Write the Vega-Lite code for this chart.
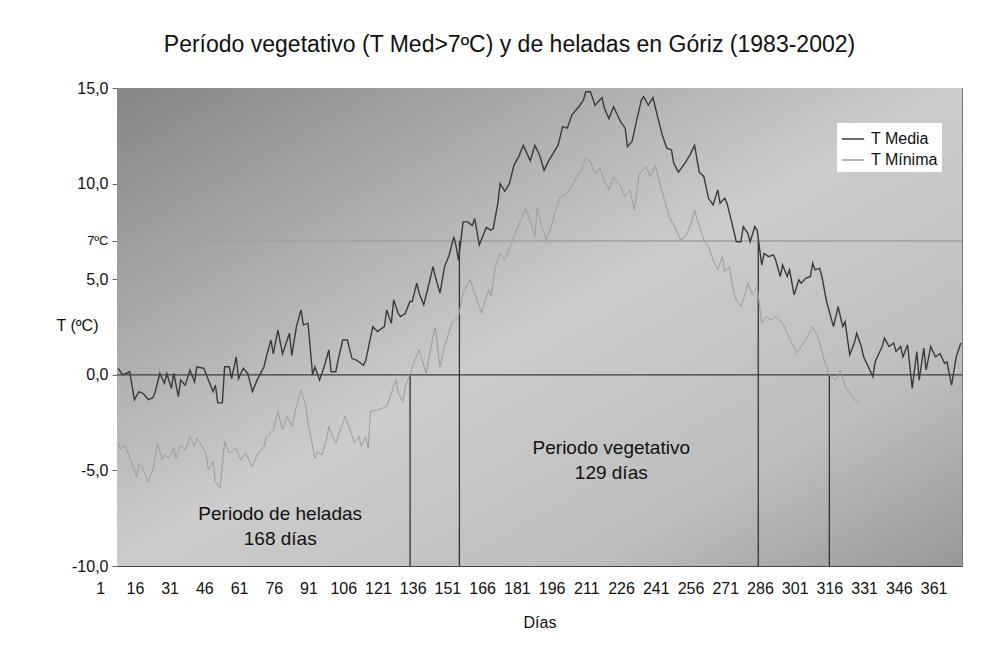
{
  "$schema": "https://vega.github.io/schema/vega-lite/v6.json",
  "autosize": "none",
  "width": 845,
  "height": 478,
  "padding": {"left": 117, "top": 88, "right": 21, "bottom": 85},
  "background": "#ffffff",
  "config": {
    "font": "Liberation Sans",
    "view": {"stroke": "#777777", "strokeWidth": 1},
    "text": {"font": "Liberation Sans"}
  },
  "title": {
    "text": "Período vegetativo (T Med>7ºC) y de heladas en Góriz (1983-2002)",
    "fontSize": 23,
    "fontWeight": "normal",
    "color": "#111111",
    "anchor": "middle",
    "baseline": "middle",
    "offset": 12,
    "dx": -30
  },
  "datasets": {
    "series": [
      {"day":1,"serie":"T Media","T":0.34},{"day":2,"serie":"T Media","T":0.16},{"day":3,"serie":"T Media","T":0.0},{"day":6,"serie":"T Media","T":0.16},{"day":8,"serie":"T Media","T":-1.3},{"day":10,"serie":"T Media","T":-0.88},{"day":12,"serie":"T Media","T":-1.0},{"day":14,"serie":"T Media","T":-1.3},{"day":16,"serie":"T Media","T":-1.2},{"day":17,"serie":"T Media","T":-0.9},{"day":19,"serie":"T Media","T":0.07},{"day":21,"serie":"T Media","T":-0.45},{"day":22,"serie":"T Media","T":0.07},{"day":24,"serie":"T Media","T":-0.71},{"day":25,"serie":"T Media","T":0.07},{"day":27,"serie":"T Media","T":-1.14},{"day":28,"serie":"T Media","T":-0.28},{"day":30,"serie":"T Media","T":-0.54},{"day":32,"serie":"T Media","T":0.25},{"day":34,"serie":"T Media","T":-0.37},{"day":35,"serie":"T Media","T":0.42},{"day":38,"serie":"T Media","T":0.34},{"day":40,"serie":"T Media","T":-0.28},{"day":42,"serie":"T Media","T":-0.88},{"day":43,"serie":"T Media","T":-0.54},{"day":44,"serie":"T Media","T":-1.47},{"day":46,"serie":"T Media","T":-1.47},{"day":47,"serie":"T Media","T":0.42},{"day":49,"serie":"T Media","T":0.42},{"day":50,"serie":"T Media","T":-0.2},{"day":52,"serie":"T Media","T":0.94},{"day":53,"serie":"T Media","T":-0.2},{"day":55,"serie":"T Media","T":0.34},{"day":57,"serie":"T Media","T":0.07},{"day":59,"serie":"T Media","T":-0.88},{"day":61,"serie":"T Media","T":-0.28},{"day":64,"serie":"T Media","T":0.42},{"day":65,"serie":"T Media","T":0.94},{"day":67,"serie":"T Media","T":1.82},{"day":68,"serie":"T Media","T":1.1},{"day":70,"serie":"T Media","T":2.34},{"day":72,"serie":"T Media","T":1.1},{"day":75,"serie":"T Media","T":2.17},{"day":76,"serie":"T Media","T":1.0},{"day":78,"serie":"T Media","T":2.52},{"day":80,"serie":"T Media","T":3.39},{"day":81,"serie":"T Media","T":2.6},{"day":83,"serie":"T Media","T":2.7},{"day":85,"serie":"T Media","T":0.0},{"day":86,"serie":"T Media","T":0.42},{"day":88,"serie":"T Media","T":-0.28},{"day":90,"serie":"T Media","T":0.42},{"day":92,"serie":"T Media","T":1.3},{"day":93,"serie":"T Media","T":0.16},{"day":95,"serie":"T Media","T":0.16},{"day":96,"serie":"T Media","T":0.77},{"day":98,"serie":"T Media","T":1.82},{"day":100,"serie":"T Media","T":1.82},{"day":102,"serie":"T Media","T":0.85},{"day":104,"serie":"T Media","T":0.77},{"day":107,"serie":"T Media","T":0.5},{"day":108,"serie":"T Media","T":0.77},{"day":111,"serie":"T Media","T":2.52},{"day":113,"serie":"T Media","T":2.26},{"day":116,"serie":"T Media","T":2.52},{"day":117,"serie":"T Media","T":3.39},{"day":119,"serie":"T Media","T":2.69},{"day":120,"serie":"T Media","T":3.92},{"day":122,"serie":"T Media","T":3.2},{"day":123,"serie":"T Media","T":3.04},{"day":125,"serie":"T Media","T":3.2},{"day":127,"serie":"T Media","T":3.83},{"day":128,"serie":"T Media","T":3.83},{"day":130,"serie":"T Media","T":4.79},{"day":131,"serie":"T Media","T":4.27},{"day":133,"serie":"T Media","T":3.66},{"day":135,"serie":"T Media","T":4.62},{"day":137,"serie":"T Media","T":5.66},{"day":138,"serie":"T Media","T":5.14},{"day":140,"serie":"T Media","T":4.27},{"day":142,"serie":"T Media","T":5.66},{"day":144,"serie":"T Media","T":6.27},{"day":146,"serie":"T Media","T":7.22},{"day":147,"serie":"T Media","T":6.7},{"day":148,"serie":"T Media","T":6.0},{"day":150,"serie":"T Media","T":8.0},{"day":152,"serie":"T Media","T":8.0},{"day":154,"serie":"T Media","T":7.8},{"day":155,"serie":"T Media","T":8.17},{"day":157,"serie":"T Media","T":6.79},{"day":159,"serie":"T Media","T":7.4},{"day":160,"serie":"T Media","T":7.7},{"day":162,"serie":"T Media","T":7.57},{"day":163,"serie":"T Media","T":7.65},{"day":165,"serie":"T Media","T":8.97},{"day":166,"serie":"T Media","T":10.0},{"day":168,"serie":"T Media","T":9.6},{"day":170,"serie":"T Media","T":10.0},{"day":172,"serie":"T Media","T":10.97},{"day":174,"serie":"T Media","T":11.4},{"day":176,"serie":"T Media","T":12.0},{"day":179,"serie":"T Media","T":11.2},{"day":181,"serie":"T Media","T":12.0},{"day":183,"serie":"T Media","T":11.5},{"day":185,"serie":"T Media","T":10.7},{"day":187,"serie":"T Media","T":11.2},{"day":191,"serie":"T Media","T":12.0},{"day":193,"serie":"T Media","T":12.98},{"day":195,"serie":"T Media","T":12.9},{"day":196,"serie":"T Media","T":13.24},{"day":197,"serie":"T Media","T":13.6},{"day":200,"serie":"T Media","T":14.02},{"day":202,"serie":"T Media","T":14.37},{"day":203,"serie":"T Media","T":14.8},{"day":205,"serie":"T Media","T":14.8},{"day":207,"serie":"T Media","T":14.1},{"day":210,"serie":"T Media","T":14.5},{"day":211,"serie":"T Media","T":13.95},{"day":213,"serie":"T Media","T":13.4},{"day":215,"serie":"T Media","T":14.02},{"day":217,"serie":"T Media","T":13.5},{"day":218,"serie":"T Media","T":13.24},{"day":220,"serie":"T Media","T":12.9},{"day":221,"serie":"T Media","T":11.93},{"day":223,"serie":"T Media","T":12.2},{"day":225,"serie":"T Media","T":13.33},{"day":227,"serie":"T Media","T":14.37},{"day":228,"serie":"T Media","T":14.55},{"day":230,"serie":"T Media","T":14.1},{"day":232,"serie":"T Media","T":14.5},{"day":234,"serie":"T Media","T":13.5},{"day":236,"serie":"T Media","T":12.54},{"day":238,"serie":"T Media","T":11.85},{"day":240,"serie":"T Media","T":11.76},{"day":241,"serie":"T Media","T":11.06},{"day":243,"serie":"T Media","T":10.6},{"day":246,"serie":"T Media","T":11.1},{"day":248,"serie":"T Media","T":11.5},{"day":250,"serie":"T Media","T":12.0},{"day":252,"serie":"T Media","T":10.6},{"day":254,"serie":"T Media","T":10.36},{"day":256,"serie":"T Media","T":9.23},{"day":258,"serie":"T Media","T":8.88},{"day":260,"serie":"T Media","T":9.67},{"day":261,"serie":"T Media","T":8.97},{"day":263,"serie":"T Media","T":9.23},{"day":264,"serie":"T Media","T":8.97},{"day":266,"serie":"T Media","T":8.0},{"day":268,"serie":"T Media","T":6.96},{"day":270,"serie":"T Media","T":6.96},{"day":271,"serie":"T Media","T":7.75},{"day":273,"serie":"T Media","T":7.4},{"day":274,"serie":"T Media","T":6.96},{"day":276,"serie":"T Media","T":7.75},{"day":277,"serie":"T Media","T":7.57},{"day":279,"serie":"T Media","T":5.74},{"day":280,"serie":"T Media","T":6.35},{"day":282,"serie":"T Media","T":6.18},{"day":284,"serie":"T Media","T":6.27},{"day":285,"serie":"T Media","T":6.0},{"day":287,"serie":"T Media","T":5.14},{"day":288,"serie":"T Media","T":5.74},{"day":290,"serie":"T Media","T":5.14},{"day":291,"serie":"T Media","T":5.49},{"day":293,"serie":"T Media","T":4.18},{"day":295,"serie":"T Media","T":4.97},{"day":296,"serie":"T Media","T":4.79},{"day":298,"serie":"T Media","T":5.05},{"day":300,"serie":"T Media","T":5.14},{"day":301,"serie":"T Media","T":5.83},{"day":302,"serie":"T Media","T":5.49},{"day":304,"serie":"T Media","T":5.57},{"day":305,"serie":"T Media","T":5.14},{"day":307,"serie":"T Media","T":3.83},{"day":310,"serie":"T Media","T":2.52},{"day":312,"serie":"T Media","T":3.57},{"day":314,"serie":"T Media","T":2.52},{"day":315,"serie":"T Media","T":2.78},{"day":317,"serie":"T Media","T":1.05},{"day":319,"serie":"T Media","T":1.66},{"day":320,"serie":"T Media","T":2.17},{"day":322,"serie":"T Media","T":1.48},{"day":323,"serie":"T Media","T":0.94},{"day":327,"serie":"T Media","T":-0.09},{"day":328,"serie":"T Media","T":0.68},{"day":331,"serie":"T Media","T":1.48},{"day":332,"serie":"T Media","T":1.92},{"day":334,"serie":"T Media","T":1.48},{"day":336,"serie":"T Media","T":1.66},{"day":337,"serie":"T Media","T":1.22},{"day":339,"serie":"T Media","T":1.48},{"day":340,"serie":"T Media","T":0.94},{"day":342,"serie":"T Media","T":1.57},{"day":344,"serie":"T Media","T":-0.71},{"day":346,"serie":"T Media","T":1.22},{"day":347,"serie":"T Media","T":-0.28},{"day":349,"serie":"T Media","T":1.4},{"day":350,"serie":"T Media","T":0.25},{"day":352,"serie":"T Media","T":1.48},{"day":354,"serie":"T Media","T":0.94},{"day":356,"serie":"T Media","T":1.1},{"day":358,"serie":"T Media","T":0.6},{"day":359,"serie":"T Media","T":0.68},{"day":361,"serie":"T Media","T":-0.54},{"day":363,"serie":"T Media","T":0.94},{"day":365,"serie":"T Media","T":1.66},
      {"day":1,"serie":"T Mínima","T":-3.58},{"day":2,"serie":"T Mínima","T":-3.87},{"day":4,"serie":"T Mínima","T":-3.7},{"day":8,"serie":"T Mínima","T":-4.98},{"day":9,"serie":"T Mínima","T":-5.33},{"day":10,"serie":"T Mínima","T":-4.63},{"day":12,"serie":"T Mínima","T":-4.98},{"day":14,"serie":"T Mínima","T":-5.59},{"day":16,"serie":"T Mínima","T":-4.98},{"day":18,"serie":"T Mínima","T":-3.58},{"day":20,"serie":"T Mínima","T":-4.45},{"day":21,"serie":"T Mínima","T":-4.19},{"day":23,"serie":"T Mínima","T":-4.37},{"day":25,"serie":"T Mínima","T":-3.84},{"day":26,"serie":"T Mínima","T":-4.37},{"day":28,"serie":"T Mínima","T":-3.67},{"day":30,"serie":"T Mínima","T":-3.93},{"day":32,"serie":"T Mínima","T":-3.23},{"day":34,"serie":"T Mínima","T":-3.75},{"day":35,"serie":"T Mínima","T":-3.32},{"day":37,"serie":"T Mínima","T":-3.67},{"day":39,"serie":"T Mínima","T":-4.19},{"day":40,"serie":"T Mínima","T":-4.98},{"day":42,"serie":"T Mínima","T":-4.54},{"day":43,"serie":"T Mínima","T":-5.59},{"day":45,"serie":"T Mínima","T":-5.94},{"day":47,"serie":"T Mínima","T":-3.49},{"day":49,"serie":"T Mínima","T":-4.1},{"day":52,"serie":"T Mínima","T":-3.84},{"day":54,"serie":"T Mínima","T":-4.45},{"day":56,"serie":"T Mínima","T":-4.1},{"day":58,"serie":"T Mínima","T":-4.54},{"day":59,"serie":"T Mínima","T":-4.8},{"day":61,"serie":"T Mínima","T":-4.19},{"day":64,"serie":"T Mínima","T":-3.75},{"day":65,"serie":"T Mínima","T":-3.23},{"day":68,"serie":"T Mínima","T":-2.88},{"day":70,"serie":"T Mínima","T":-1.92},{"day":72,"serie":"T Mínima","T":-2.88},{"day":74,"serie":"T Mínima","T":-2.18},{"day":76,"serie":"T Mínima","T":-2.7},{"day":78,"serie":"T Mínima","T":-1.66},{"day":80,"serie":"T Mínima","T":-0.79},{"day":82,"serie":"T Mínima","T":-1.57},{"day":83,"serie":"T Mínima","T":-2.53},{"day":86,"serie":"T Mínima","T":-4.37},{"day":87,"serie":"T Mínima","T":-4.02},{"day":89,"serie":"T Mínima","T":-4.19},{"day":91,"serie":"T Mínima","T":-3.4},{"day":92,"serie":"T Mínima","T":-2.7},{"day":94,"serie":"T Mínima","T":-3.32},{"day":95,"serie":"T Mínima","T":-3.58},{"day":97,"serie":"T Mínima","T":-2.88},{"day":99,"serie":"T Mínima","T":-2.18},{"day":101,"serie":"T Mínima","T":-2.79},{"day":103,"serie":"T Mínima","T":-3.58},{"day":105,"serie":"T Mínima","T":-3.23},{"day":106,"serie":"T Mínima","T":-3.75},{"day":108,"serie":"T Mínima","T":-3.23},{"day":109,"serie":"T Mínima","T":-3.84},{"day":110,"serie":"T Mínima","T":-1.92},{"day":113,"serie":"T Mínima","T":-1.84},{"day":117,"serie":"T Mínima","T":-1.66},{"day":119,"serie":"T Mínima","T":-0.96},{"day":121,"serie":"T Mínima","T":-0.26},{"day":122,"serie":"T Mínima","T":-0.96},{"day":124,"serie":"T Mínima","T":-1.4},{"day":125,"serie":"T Mínima","T":-0.61},{"day":127,"serie":"T Mínima","T":0.0},{"day":129,"serie":"T Mínima","T":0.7},{"day":131,"serie":"T Mínima","T":1.3},{"day":134,"serie":"T Mínima","T":0.09},{"day":137,"serie":"T Mínima","T":2.0},{"day":138,"serie":"T Mínima","T":2.5},{"day":140,"serie":"T Mínima","T":0.42},{"day":142,"serie":"T Mínima","T":1.48},{"day":145,"serie":"T Mínima","T":2.7},{"day":148,"serie":"T Mínima","T":3.05},{"day":150,"serie":"T Mínima","T":4.27},{"day":153,"serie":"T Mínima","T":4.97},{"day":155,"serie":"T Mínima","T":4.27},{"day":158,"serie":"T Mínima","T":3.22},{"day":161,"serie":"T Mínima","T":4.45},{"day":162,"serie":"T Mínima","T":4.1},{"day":164,"serie":"T Mínima","T":5.66},{"day":166,"serie":"T Mínima","T":6.36},{"day":168,"serie":"T Mínima","T":6.0},{"day":171,"serie":"T Mínima","T":6.88},{"day":173,"serie":"T Mínima","T":7.57},{"day":175,"serie":"T Mínima","T":8.1},{"day":177,"serie":"T Mínima","T":8.71},{"day":179,"serie":"T Mínima","T":8.1},{"day":181,"serie":"T Mínima","T":7.22},{"day":182,"serie":"T Mínima","T":8.71},{"day":184,"serie":"T Mínima","T":7.75},{"day":186,"serie":"T Mínima","T":7.05},{"day":188,"serie":"T Mínima","T":7.75},{"day":190,"serie":"T Mínima","T":8.62},{"day":192,"serie":"T Mínima","T":9.32},{"day":194,"serie":"T Mínima","T":9.4},{"day":197,"serie":"T Mínima","T":9.85},{"day":199,"serie":"T Mínima","T":10.36},{"day":201,"serie":"T Mínima","T":10.7},{"day":203,"serie":"T Mínima","T":11.32},{"day":205,"serie":"T Mínima","T":11.15},{"day":207,"serie":"T Mínima","T":10.5},{"day":209,"serie":"T Mínima","T":10.8},{"day":211,"serie":"T Mínima","T":10.2},{"day":213,"serie":"T Mínima","T":9.67},{"day":215,"serie":"T Mínima","T":10.36},{"day":218,"serie":"T Mínima","T":9.85},{"day":220,"serie":"T Mínima","T":9.32},{"day":222,"serie":"T Mínima","T":9.67},{"day":224,"serie":"T Mínima","T":8.62},{"day":226,"serie":"T Mínima","T":10.5},{"day":229,"serie":"T Mínima","T":10.88},{"day":231,"serie":"T Mínima","T":10.36},{"day":233,"serie":"T Mínima","T":10.97},{"day":235,"serie":"T Mínima","T":10.0},{"day":237,"serie":"T Mínima","T":9.14},{"day":239,"serie":"T Mínima","T":8.27},{"day":242,"serie":"T Mínima","T":7.57},{"day":244,"serie":"T Mínima","T":7.05},{"day":246,"serie":"T Mínima","T":7.22},{"day":248,"serie":"T Mínima","T":7.75},{"day":250,"serie":"T Mínima","T":8.62},{"day":252,"serie":"T Mínima","T":7.75},{"day":254,"serie":"T Mínima","T":7.05},{"day":256,"serie":"T Mínima","T":6.7},{"day":258,"serie":"T Mínima","T":6.0},{"day":260,"serie":"T Mínima","T":5.49},{"day":262,"serie":"T Mínima","T":6.18},{"day":263,"serie":"T Mínima","T":5.4},{"day":265,"serie":"T Mínima","T":5.66},{"day":267,"serie":"T Mínima","T":4.27},{"day":268,"serie":"T Mínima","T":3.92},{"day":270,"serie":"T Mínima","T":3.57},{"day":272,"serie":"T Mínima","T":4.27},{"day":273,"serie":"T Mínima","T":4.79},{"day":275,"serie":"T Mínima","T":4.18},{"day":277,"serie":"T Mínima","T":4.62},{"day":279,"serie":"T Mínima","T":2.7},{"day":281,"serie":"T Mínima","T":3.05},{"day":283,"serie":"T Mínima","T":2.87},{"day":285,"serie":"T Mínima","T":3.05},{"day":288,"serie":"T Mínima","T":2.7},{"day":290,"serie":"T Mínima","T":2.17},{"day":292,"serie":"T Mínima","T":1.66},{"day":294,"serie":"T Mínima","T":1.14},{"day":296,"serie":"T Mínima","T":1.48},{"day":298,"serie":"T Mínima","T":1.83},{"day":301,"serie":"T Mínima","T":2.52},{"day":303,"serie":"T Mínima","T":2.0},{"day":304,"serie":"T Mínima","T":1.66},{"day":306,"serie":"T Mínima","T":0.79},{"day":307,"serie":"T Mínima","T":0.42},{"day":308,"serie":"T Mínima","T":0.0},{"day":311,"serie":"T Mínima","T":-0.28},{"day":313,"serie":"T Mínima","T":0.25},{"day":315,"serie":"T Mínima","T":-0.61},{"day":317,"serie":"T Mínima","T":-0.96},{"day":319,"serie":"T Mínima","T":-1.3},{"day":321,"serie":"T Mínima","T":-1.5}
    ]
  },
  "encoding": {
    "x": {
      "field": "day", "type": "quantitative",
      "scale": {"domain": [0.5, 365.5], "nice": false, "zero": false},
      "axis": {
        "title": "Días", "titleFontSize": 16, "titleFontWeight": "normal", "titleColor": "#111111", "titlePadding": 18,
        "values": [1,16,31,46,61,76,91,106,121,136,151,166,181,196,211,226,241,256,271,286,301,316,331,346,361],
        "labelFontSize": 16, "labelColor": "#111111", "labelOffset": -18, "labelFlush": false, "labelOverlap": false,
        "labelPadding": 14, "ticks": false, "grid": false, "domain": true, "domainColor": "#444444", "domainWidth": 1.2
      }
    },
    "y": {
      "field": "T", "type": "quantitative",
      "scale": {"domain": [-10, 15], "nice": false, "zero": false},
      "axis": {
        "title": "T (ºC)", "titleAngle": 0, "titleAlign": "right", "titleBaseline": "middle",
        "titleX": -19, "titleY": 237, "titleFontSize": 16, "titleFontWeight": "normal", "titleColor": "#111111",
        "values": [-10, -5, 0, 5, 7, 10, 15],
        "labelExpr": "datum.value == 7 ? '7ºC' : replace(replace(format(datum.value, '.1f'), '.', ','), '\u2212', '-')",
        "labelFontSize": {"condition": {"test": "datum.value == 7", "value": 13}, "value": 16},
        "labelColor": "#111111", "labelPadding": 4, "tickSize": 5, "tickColor": "#666666",
        "grid": false, "domain": false
      }
    }
  },
  "layer": [
    {
      "data": {"values": [{"day": 0.5, "day2": 365.5, "T": -10, "T2": 15}]},
      "mark": {
        "type": "rect",
        "color": {
          "gradient": "linear", "x1": 0, "y1": 0, "x2": 1, "y2": 1,
          "stops": [
            {"offset": 0, "color": "#858585"},
            {"offset": 0.5, "color": "#cccccc"},
            {"offset": 0.78, "color": "#bdbdbd"},
            {"offset": 1, "color": "#989898"}
          ]
        }
      },
      "encoding": {"x2": {"field": "day2"}, "y2": {"field": "T2"}}
    },
    {
      "data": {"values": [{"day": 0.5, "day2": 365.5, "T": 7}]},
      "mark": {"type": "rule", "color": "#a0a0a0", "strokeWidth": 1.5},
      "encoding": {"x2": {"field": "day2"}}
    },
    {
      "data": {"values": [{"day": 0.5, "day2": 365.5, "T": 0}]},
      "mark": {"type": "rule", "color": "#3c3c3c", "strokeWidth": 1.2},
      "encoding": {"x2": {"field": "day2"}}
    },
    {
      "data": {"values": [
        {"day": 127.1, "T": -10, "T2": 0},
        {"day": 148.4, "T": -10, "T2": 7},
        {"day": 277.5, "T": -10, "T2": 7},
        {"day": 308.2, "T": -10, "T2": 0}
      ]},
      "mark": {"type": "rule", "color": "#333333", "strokeWidth": 1.3},
      "encoding": {"y2": {"field": "T2"}}
    },
    {
      "data": {"name": "series"},
      "mark": {"type": "line", "interpolate": "linear"},
      "encoding": {
        "color": {
          "field": "serie", "type": "nominal",
          "scale": {"domain": ["T Media", "T Mínima"], "range": ["#3a3a3a", "#9c9c9c"]},
          "legend": {
            "title": null, "orient": "none", "legendX": 720, "legendY": 35,
            "fillColor": "#ffffff", "padding": 4, "symbolType": "stroke", "symbolSize": 500,
            "symbolStrokeWidth": 1.5, "labelFontSize": 16, "labelColor": "#111111", "labelOffset": 6,
            "rowPadding": 1
          }
        },
        "strokeWidth": {"condition": {"test": "datum.serie == 'T Media'", "value": 1.4}, "value": 1}
      }
    },
    {
      "data": {"values": [
        {"day": 71, "T": -7.28, "label": "Periodo de heladas"},
        {"day": 71, "T": -8.59, "label": "168 días"},
        {"day": 214, "T": -3.83, "label": "Periodo vegetativo"},
        {"day": 214, "T": -5.14, "label": "129 días"}
      ]},
      "mark": {"type": "text", "fontSize": 19, "color": "#111111", "align": "center", "baseline": "middle"},
      "encoding": {"text": {"field": "label"}}
    }
  ]
}
